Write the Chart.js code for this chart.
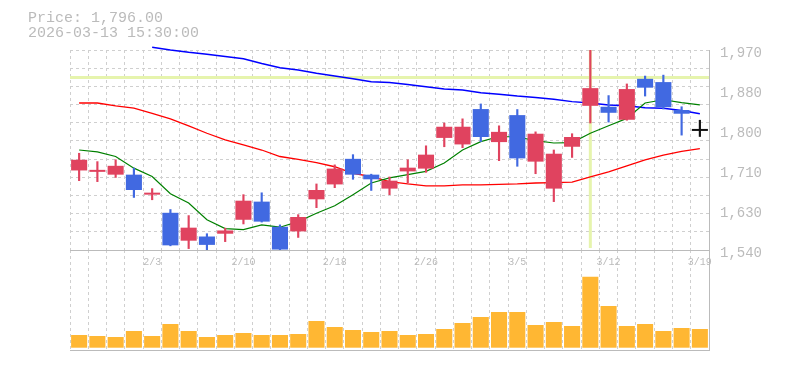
<!DOCTYPE html>
<html>
<head>
<meta charset="utf-8">
<script src="https://cdn.jsdelivr.net/npm/chart.js@4.4.1/dist/chart.umd.min.js"></script>
<style>
  body { margin: 0; background: #fff; }
  #wrap { position: relative; width: 785px; height: 370px; }
  #info { position: absolute; left: 28px; top: 11px; font: 15px/15px "Liberation Mono", monospace; color: #bbb; white-space: pre; z-index: 3; }
  #priceChart { position: absolute; left: 0; top: 0; z-index: 2; }
  #volumeChart { position: absolute; left: 0; top: 250px; z-index: 1; }
</style>
</head>
<body>
<div id="wrap">
  <div id="info"></div>
  <canvas id="priceChart" width="785" height="270"></canvas>
  <canvas id="volumeChart" width="785" height="120"></canvas>
</div>
<script>
const infoPrice = 'Price: 1,796.00';
const infoTime = '2026-03-13 15:30:00';

const dates = ['1/28', '1/29', '1/30', '2/2', '2/3', '2/4', '2/5', '2/6', '2/9', '2/10',
  '2/12', '2/13', '2/16', '2/17', '2/18', '2/19', '2/20', '2/24', '2/25', '2/26',
  '2/27', '3/2', '3/3', '3/4', '3/5', '3/6', '3/9', '3/10', '3/11', '3/12',
  '3/13', '3/16', '3/17', '3/18', '3/19'];
const shownDates = ['2/3', '2/10', '2/18', '2/26', '3/5', '3/12', '3/19'];

const open = [1711, 1708, 1702, 1702, 1659, 1620, 1560, 1569, 1575, 1605,
  1644, 1590, 1580, 1649, 1681, 1736, 1702, 1672, 1709, 1715,
  1781, 1767, 1843, 1772, 1830, 1730, 1672, 1762, 1850, 1848,
  1820, 1908, 1901, 1841, 1796];
const high = [1748, 1730, 1734, 1716, 1672, 1627, 1614, 1575, 1587, 1659,
  1663, 1594, 1616, 1682, 1723, 1745, 1703, 1697, 1734, 1764,
  1813, 1822, 1854, 1807, 1842, 1794, 1755, 1790, 1970, 1872,
  1897, 1914, 1916, 1848, 1819];
const low = [1689, 1687, 1696, 1653, 1648, 1549, 1543, 1540, 1558, 1596,
  1600, 1540, 1567, 1631, 1674, 1692, 1668, 1659, 1684, 1707,
  1762, 1760, 1773, 1732, 1720, 1704, 1644, 1739, 1813, 1815,
  1819, 1871, 1843, 1787, 1784];
const close = [1734, 1711, 1721, 1669, 1662, 1550, 1588, 1551, 1582, 1646,
  1601, 1541, 1611, 1669, 1715, 1702, 1692, 1689, 1717, 1745,
  1805, 1805, 1783, 1794, 1737, 1790, 1747, 1783, 1888, 1835,
  1886, 1889, 1847, 1833, 1796];

const ma5 = [1755, 1751, 1741, 1716, 1698, 1661, 1641, 1605, 1586, 1584,
  1594, 1589, 1601, 1619, 1635, 1659, 1684, 1695, 1702, 1709,
  1727, 1755, 1773, 1784, 1783, 1775, 1770, 1771, 1791, 1807,
  1823, 1856, 1863, 1857, 1852];
const ma25 = [1856, 1856, 1850, 1845, 1834, 1822, 1807, 1791, 1777, 1766,
  1755, 1741, 1735, 1728, 1719, 1705, 1698, 1687, 1682, 1678,
  1678, 1680, 1680, 1681, 1682, 1684, 1685, 1686, 1697, 1708,
  1721, 1734, 1744, 1752, 1758];
const ma75 = [null, null, null, null, 1976, 1970, 1965, 1961, 1956, 1951,
  1941, 1932, 1927, 1920, 1914, 1908, 1902, 1900, 1896, 1891,
  1886, 1884, 1878, 1875, 1871, 1868, 1864, 1859, 1856, 1852,
  1850, 1846, 1845, 1840, 1833];

const volume = [127, 117, 107, 167, 117, 237, 167, 107, 127, 147,
  127, 127, 137, 267, 207, 177, 157, 167, 127, 137,
  187, 247, 307, 357, 357, 227, 257, 217, 710, 417,
  217, 237, 167, 197, 187];

const priceTicks = [1540, 1626, 1712, 1798, 1884, 1970];
const priceTickLabels = ['1,540', '1,630', '1,710', '1,800', '1,880', '1,970'];

const crossDate = '3/11';
const crossPrice = 1911;

document.getElementById('info').textContent = infoPrice + '\n' + infoTime;

const upColor = '#e0435f';
const downColor = '#4169e1';
const flatColor = '#111';
const candleColors = close.map((c, i) => c > open[i] ? upColor : (c < open[i] ? downColor : flatColor));

const gridColor = '#cfcfcf';
const axisColor = '#bbb';
const dash = [3, 3];
const monoFont = 'Liberation Mono';

// yellow crosshair, drawn under the candles
const crosshair = {
  id: 'crosshair',
  beforeDatasetsDraw(chart) {
    const { ctx, chartArea: a, scales } = chart;
    const px = scales.x.getPixelForValue(dates.indexOf(crossDate));
    const py = scales.y.getPixelForValue(crossPrice);
    ctx.save();
    ctx.strokeStyle = '#e6f4ad';
    ctx.lineWidth = 3;
    ctx.beginPath();
    ctx.moveTo(a.left, py);
    ctx.lineTo(a.right, py);
    ctx.moveTo(px, a.top);
    ctx.lineTo(px, a.bottom - 2);
    ctx.stroke();
    ctx.restore();
  }
};

const priceChart = new Chart(document.getElementById('priceChart'), {
  type: 'bar',
  data: {
    labels: dates,
    datasets: [
      {
        type: 'line',
        data: ma75,
        borderColor: '#0000ff',
        borderWidth: 1.5,
        pointRadius: 0,
        clip: false,
        order: 5
      },
      {
        type: 'line',
        data: ma25,
        borderColor: '#ff0000',
        borderWidth: 1.3,
        pointRadius: 0,
        order: 4
      },
      {
        type: 'line',
        data: ma5,
        borderColor: '#008000',
        borderWidth: 1.2,
        pointRadius: 0,
        order: 3
      },
      {
        data: dates.map((d, i) => [low[i], high[i]]),
        backgroundColor: candleColors,
        barThickness: 1.5,
        grouped: false,
        order: 2
      },
      {
        data: dates.map((d, i) => [open[i], close[i]]),
        backgroundColor: candleColors,
        barPercentage: 0.88,
        categoryPercentage: 1,
        minBarLength: 2,
        grouped: false,
        order: 1
      }
    ]
  },
  options: {
    responsive: false,
    animation: false,
    events: [],
    layout: { padding: { top: 50, left: 70, right: 0, bottom: 0 } },
    plugins: {
      legend: { display: false },
      tooltip: { enabled: false }
    },
    scales: {
      x: {
        grid: { color: gridColor, drawTicks: false, offset: true },
        border: { display: true, color: axisColor, dash: dash },
        ticks: {
          autoSkip: false,
          maxRotation: 0,
          padding: 6,
          color: axisColor,
          font: { family: monoFont, size: 10 },
          callback: (v, i) => shownDates.includes(dates[i]) ? dates[i] : ''
        },
        afterFit: (s) => { s.height = 20; }
      },
      y: {
        position: 'right',
        min: 1540,
        max: 1970,
        afterBuildTicks: (s) => {
          s.ticks = Array.from({ length: 12 }, (_, i) => ({ value: 1540 + i * 430 / 11 }));
        },
        grid: { color: gridColor, drawTicks: false },
        border: { display: true, color: axisColor, dash: dash },
        ticks: { display: false },
        afterFit: (s) => { s.width = 0; }
      },
      yl: {
        position: 'right',
        weight: 1,
        min: 1540,
        max: 1970,
        afterBuildTicks: (s) => {
          s.ticks = priceTicks.map(v => ({ value: v }));
        },
        grid: { display: false, drawTicks: false },
        border: { display: false },
        ticks: {
          padding: 11,
          labelOffset: 3,
          color: axisColor,
          font: { family: monoFont, size: 14 },
          callback: (v, i) => priceTickLabels[i]
        },
        afterFit: (s) => { s.width = 76; }
      }
    }
  },
  plugins: [crosshair]
});

const volumeChart = new Chart(document.getElementById('volumeChart'), {
  type: 'bar',
  data: {
    labels: dates,
    datasets: [{
      data: volume,
      backgroundColor: '#ffb733',
      barPercentage: 0.88,
      categoryPercentage: 1
    }]
  },
  options: {
    responsive: false,
    animation: false,
    events: [],
    layout: { padding: { top: 0, left: 70, right: 0, bottom: 0 } },
    plugins: {
      legend: { display: false },
      tooltip: { enabled: false }
    },
    scales: {
      x: {
        grid: { color: gridColor, drawTicks: false, offset: true },
        border: { display: true, color: axisColor, dash: dash },
        ticks: { display: false },
        afterFit: (s) => { s.height = 20; }
      },
      y: {
        position: 'right',
        min: -23,
        max: 977,
        grid: { display: false, drawTicks: false },
        border: { display: true, color: axisColor },
        ticks: { display: false },
        afterFit: (s) => { s.width = 76; }
      }
    }
  }
});
</script>
</body>
</html>
